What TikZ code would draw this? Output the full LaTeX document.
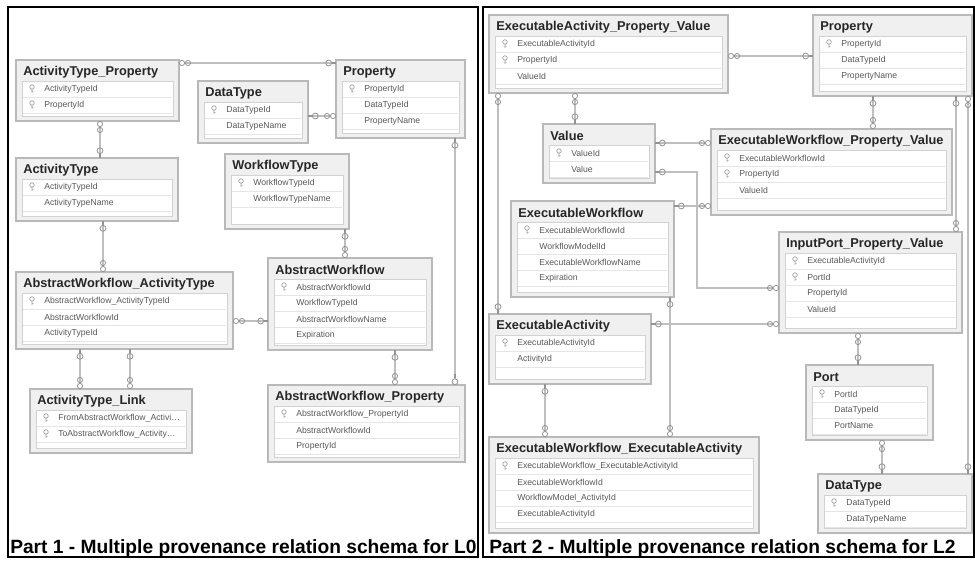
\documentclass[tikz,border=0pt]{standalone}
\usepackage{fontspec}
\setmainfont{Liberation Sans}
\usetikzlibrary{arrows.meta}

\tikzset{
  infty/.tip={Circle[open,length=4.5pt,width=4.5pt,line width=0.6pt,color=gray!85]Circle[open,length=4.5pt,width=4.5pt,line width=0.6pt,color=gray!85]},
  keyend/.tip={Circle[open,length=5pt,width=5pt,line width=0.6pt,color=gray!85]Rectangle[length=3pt,width=1pt,color=gray!85]},
  keystart/.tip={Rectangle[length=3pt,width=1pt,color=gray!85]Circle[open,length=5pt,width=5pt,line width=0.6pt,color=gray!85]},
}

% table: name, x, y, width, height, title, rows (1 = key / text)
\newcommand{\ertable}[7]{%
  \node[erframe,minimum width=#4*0.75pt,minimum height=#5*0.75pt] (#1) at (#2,#3) {};
  \draw[erinner] ([shift={(6,21)}]#1.north west) rectangle ([shift={(-6,-5)}]#1.south east);
  \node[ertitle] (#1-t) at ([shift={(7,12)}]#1.north west) {#6};
  \foreach \iskey/\rowtext [count=\rowno] in {#7}{
    \draw[ersep] ([shift={(7,21+16*\rowno)}]#1.north west) -- ([shift={(-7,21+16*\rowno)}]#1.north east);
    \node[errow] (#1-\rowno) at ([shift={(28,13+16*\rowno)}]#1.north west) {\rowtext};
    \ifnum\iskey=1 \pic at ([shift={(16,13+16*\rowno)}]#1.north west) {erkey};\fi
  }
}

\begin{document}
\begin{tikzpicture}[x=0.75pt,y=-0.75pt,
  erframe/.style={draw=gray!55,fill=gray!12,line width=0.9pt,inner sep=0pt,outer sep=0pt,anchor=north west,rectangle},
  erinner/.style={draw=gray!35,fill=white,line width=0.5pt},
  ersep/.style={draw=gray!20,line width=0.4pt},
  ertitle/.style={anchor=west,inner sep=0pt,font=\fontsize{9.6}{12}\selectfont\bfseries,text=black!85},
  errow/.style={anchor=west,inner sep=0pt,font=\fontsize{6.5}{8}\selectfont,text=black!65},
  erkey/.pic={\draw[gray!75,line width=0.5pt] (0,-2) circle[radius=1.7pt] (0,-0.3) -- (0,3.8) (0,2.6) -- (1.6,2.6);},
  erlink/.style={draw=gray!50,line width=1.8pt},
  panel/.style={draw=black,line width=1.5pt},
  caption/.style={anchor=base west,inner sep=0pt,font=\fontsize{14.4}{16}\selectfont\bfseries}]
\useasboundingbox (0,0) rectangle (975,561);

% panels
\draw[panel] (8,7) rectangle (478,557);
\draw[panel] (483,7) rectangle (974,557);

% Part 1 tables
\ertable{atp}{16}{60}{163}{61}{ActivityType\_Property}{1/ActivityTypeId,1/PropertyId}
\ertable{ldt}{198}{81}{110}{62}{DataType}{1/DataTypeId,0/DataTypeName}
\ertable{lprop}{336}{60}{129}{78}{Property}{1/PropertyId,0/DataTypeId,0/PropertyName}
\ertable{wt}{225}{154}{124}{75}{WorkflowType}{1/WorkflowTypeId,0/WorkflowTypeName}
\ertable{at}{16}{158}{162}{63}{ActivityType}{1/ActivityTypeId,0/ActivityTypeName}
\ertable{awat}{16}{272}{217}{77}{AbstractWorkflow\_ActivityType}{1/AbstractWorkflow\_ActivityTypeId,0/AbstractWorkflowId,0/ActivityTypeId}
\ertable{aw}{268}{258}{164}{92}{AbstractWorkflow}{1/AbstractWorkflowId,0/WorkflowTypeId,0/AbstractWorkflowName,0/Expiration}
\ertable{atl}{30}{389}{162}{64}{ActivityType\_Link}{1/FromAbstractWorkflow\_Activi\ldots,1/ToAbstractWorkflow\_Activity\ldots}
\ertable{awp}{268}{385}{197}{77}{AbstractWorkflow\_Property}{1/AbstractWorkflow\_PropertyId,0/AbstractWorkflowId,0/PropertyId}

% Part 1 relations
\draw[erlink,infty-keyend] (atp.east |- 0,63) -- (lprop.west |- 0,63);
\draw[erlink,infty-keyend] (atp.south -| 100,0) -- (at.north -| 100,0);
\draw[erlink,infty-keyend] (lprop.west |- 0,116) -- (ldt.east |- 0,116);
\draw[erlink,infty-keyend] (aw.north -| 345,0) -- (wt.south -| 345,0);
\draw[erlink,keystart-keyend] (awp.north -| 455,0) -- (lprop.south -| 455,0);
\draw[erlink,infty-keyend] (awat.north -| 103,0) -- (at.south -| 103,0);
\draw[erlink,infty-keyend] (awat.east |- 0,321) -- (aw.west |- 0,321);
\draw[erlink,infty-keyend] (atl.north -| 80,0) -- (awat.south -| 80,0);
\draw[erlink,infty-keyend] (atl.north -| 130,0) -- (awat.south -| 130,0);
\draw[erlink,infty-keyend] (awp.north -| 395,0) -- (aw.south -| 395,0);

% Part 2 tables
\ertable{eapv}{489}{15}{239}{78}{ExecutableActivity\_Property\_Value}{1/ExecutableActivityId,1/PropertyId,0/ValueId}
\ertable{rprop}{813}{15}{159}{81}{Property}{1/PropertyId,0/DataTypeId,0/PropertyName}
\ertable{val}{543}{124}{112}{59}{Value}{1/ValueId,0/Value}
\ertable{ewpv}{711}{129}{241}{86}{ExecutableWorkflow\_Property\_Value}{1/ExecutableWorkflowId,1/PropertyId,0/ValueId}
\ertable{ew}{511}{201}{163}{96}{ExecutableWorkflow}{1/ExecutableWorkflowId,0/WorkflowModelId,0/ExecutableWorkflowName,0/Expiration}
\ertable{ippv}{779}{232}{183}{101}{InputPort\_Property\_Value}{1/ExecutableActivityId,1/PortId,0/PropertyId,0/ValueId}
\ertable{ea}{489}{314}{162}{70}{ExecutableActivity}{1/ExecutableActivityId,0/ActivityId}
\ertable{port}{806}{365}{127}{75}{Port}{1/PortId,0/DataTypeId,0/PortName}
\ertable{ewea}{489}{437}{270}{96}{ExecutableWorkflow\_ExecutableActivity}{1/ExecutableWorkflow\_ExecutableActivityId,0/ExecutableWorkflowId,0/WorkflowModel\_ActivityId,0/ExecutableActivityId}
\ertable{rdt}{818}{474}{154}{59}{DataType}{1/DataTypeId,0/DataTypeName}

% Part 2 relations
\draw[erlink,infty-keyend] (eapv.east |- 0,56) -- (rprop.west |- 0,56);
\draw[erlink,infty-keyend] (eapv.south -| 498,0) -- (ea.north -| 498,0);
\draw[erlink,infty-keyend] (eapv.south -| 575,0) -- (val.north -| 575,0);
\draw[erlink,infty-keyend] (ewpv.west |- 0,143) -- (val.east |- 0,143);
\draw[erlink,infty-keyend] (ippv.west |- 0,288) -- ++(-82,0) |- (val.east |- 0,172);
\draw[erlink,infty-keyend] (ewpv.west |- 0,206) -- (ew.east |- 0,206);
\draw[erlink,infty-keyend] (ewpv.north -| 873,0) -- (rprop.south -| 873,0);
\draw[erlink,infty-keyend] (ippv.north -| 956,0) -- (rprop.south -| 956,0);
\draw[erlink,infty-keyend] (rprop.south -| 968,0) -- (rdt.north -| 968,0);
\draw[erlink,infty-keyend] (ewea.north -| 670,0) -- (ew.south -| 670,0);
\draw[erlink,infty-keyend] (ippv.west |- 0,324) -- (ea.east |- 0,324);
\draw[erlink,infty-keyend] (ewea.north -| 545,0) -- (ea.south -| 545,0);
\draw[erlink,infty-keyend] (ippv.south -| 858,0) -- (port.north -| 858,0);
\draw[erlink,infty-keyend] (port.south -| 882,0) -- (rdt.north -| 882,0);

% captions
\node[caption] (cap1) at (10,553) {Part 1 - Multiple provenance relation schema for L0};
\node[caption] (cap2) at (489,553) {Part 2 - Multiple provenance relation schema for L2};
\end{tikzpicture}
\end{document}
